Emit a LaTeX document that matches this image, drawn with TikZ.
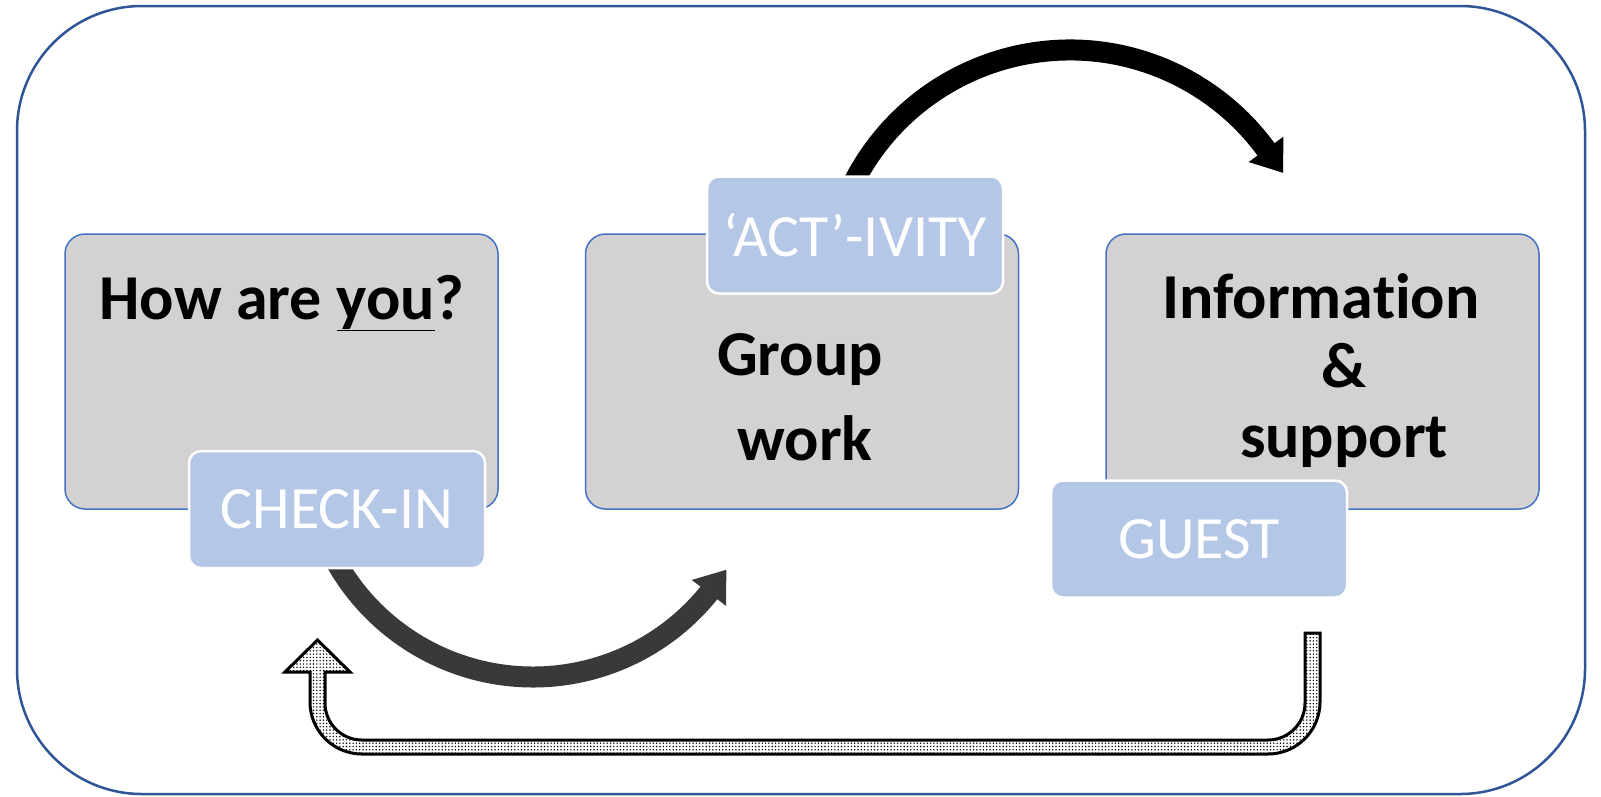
\documentclass[tikz,border=0pt]{standalone}
\usepackage{fontspec}
\setmainfont[Ligatures={TeX,NoCommon}]{Carlito}
\usepackage{xcolor}
\usetikzlibrary{arrows.meta, positioning, patterns}
\definecolor{cFrame}{RGB}{47,85,151}
\definecolor{cEdge}{RGB}{68,114,196}
\definecolor{cGrey}{RGB}{211,209,210}
\definecolor{cTag}{RGB}{180,199,231}
\definecolor{cDark}{RGB}{59,56,56}
\pgfdeclarepatternformonly{bigdots}{\pgfqpoint{-1pt}{-1pt}}{\pgfqpoint{1pt}{1pt}}{\pgfqpoint{3.3pt}{3.3pt}}%
	{\pgfpathcircle{\pgfqpoint{0pt}{0pt}}{0.8pt}\pgfusepath{fill}}
\tikzset{
	stage/.style ={rectangle, rounded corners=20pt, minimum width=433pt, minimum height=275pt, draw=cEdge, line width=1.5pt, fill=cGrey},
	tag/.style   ={rectangle, rounded corners=12pt, minimum width=296pt, minimum height=117pt, draw=white, line width=2.5pt, fill=cTag, text=white, font=\fontsize{60}{72}\selectfont},
	bigtxt/.style={font=\bfseries\fontsize{64}{#1}\selectfont, align=center, inner sep=0pt},
	bigtxt/.default=76,
	swoop/.style ={line width=21pt, -{Triangle[length=29pt, width=43pt, line width=0pt]}},
}
\begin{document}
\begin{tikzpicture}[x=1pt, y=-1pt]
	\useasboundingbox (0,0) rectangle (1601,796);
	\draw[cFrame, line width=2.5pt, rounded corners=125pt] (17,6) rectangle (1585,794);
	% centres of the two curved arrows
	\coordinate (topc) at (1070,293);
	\coordinate (lowc) at (533,451);
	\draw[swoop, black] ([shift={(-156:243)}]topc) arc[start angle=-156, end angle=-36, radius=243] -- ++(54:28);
	\draw[swoop, cDark] ([shift={(152:226)}]lowc) arc[start angle=152, end angle=38.9, radius=226] -- ++(-53:29);
	% return arrow
	\draw[line width=3pt, pattern=bigdots] (1320,633) -- (1320,702) arc[start angle=0, end angle=90, radius=52]
		-- (362,754) arc[start angle=90, end angle=180, radius=52] -- (310,672) -- (285,672) -- (317.5,640)
		-- (350,672) -- (325,672) -- (325,703) arc[start angle=180, end angle=90, radius=37]
		-- (1268,740) arc[start angle=90, end angle=0, radius=37] -- (1305,633) -- cycle;
	% stages
	\node[stage] (how) at (281.5,371.5) {};
	\node[stage, right=86pt of how] (group) {};
	\node[stage, right=86pt of group] (info) {};
	\node[bigtxt, anchor=base] (howtxt) at (282,319) {How are \underline{you}?};
	\node[bigtxt=85, anchor=base] (grouptxt) at (800,460) {Group\\\hspace*{10pt}work};
	\node[bigtxt=69.5, anchor=base] (infotxt) at (1321,457) {Information\\\hspace*{46pt}\&\\\hspace*{46pt}support};
	% tags
	\node[tag] (checkin) at (337,509.5) {CHECK-IN};
	\node[tag] (activity) at (855,235) {‘ACT’-IVITY};
	\node[tag] (guest) at (1199,539) {GUEST};
\end{tikzpicture}
\end{document}
